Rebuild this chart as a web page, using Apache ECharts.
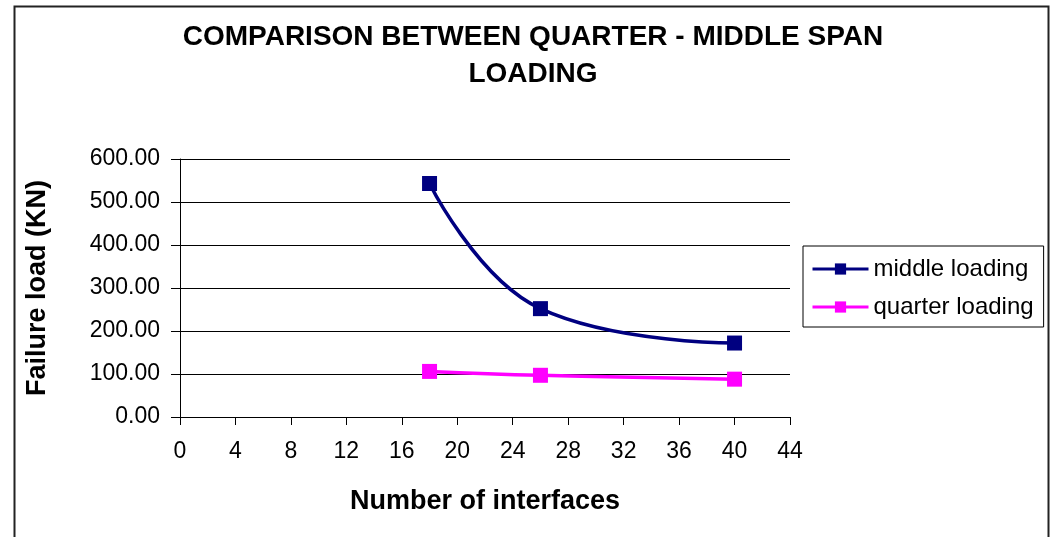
<!DOCTYPE html>
<html>
<head>
<meta charset="utf-8">
<script src="https://cdn.jsdelivr.net/npm/echarts@6/dist/echarts.min.js"></script>
<style>
  html, body { margin: 0; padding: 0; background: #fff; }
  #chart { width: 1050px; height: 537px; }
</style>
</head>
<body>
<div id="chart"></div>
<script>
// Number of interfaces (x) and failure loads in kN for the two load positions
const interfaces = [18, 26, 40];
const middleLoading = [543, 252, 172];
const quarterLoading = [106, 97, 88];
const xTicks = [0, 4, 8, 12, 16, 20, 24, 28, 32, 36, 40, 44];
const yTicks = [0, 100, 200, 300, 400, 500, 600];

const pairs = (xs, ys) => xs.map((x, i) => [x, ys[i]]);

const chart = echarts.init(document.getElementById('chart'));
const font = "'Liberation Sans', Arial, sans-serif";

chart.setOption({
  animation: false,
  backgroundColor: '#fff',
  title: {
    text: 'COMPARISON BETWEEN QUARTER - MIDDLE SPAN\nLOADING',
    left: 528,
    top: 14,
    textAlign: 'center',
    textStyle: { fontFamily: font, fontWeight: 'bold', fontSize: 28, color: '#000', lineHeight: 37 }
  },
  graphic: [{
    type: 'rect',
    shape: { x: 14.5, y: 6.5, width: 1034, height: 540 },
    style: { fill: 'none', stroke: '#222', lineWidth: 2 },
    silent: true
  }],
  legend: {
    orient: 'vertical',
    left: 803,
    top: 246,
    width: 240,
    padding: [11, 10, 8, 8],
    itemGap: 14,
    itemWidth: 56,
    itemHeight: 14,
    borderColor: '#000',
    borderWidth: 1,
    lineStyle: { width: 3 },
    textStyle: { fontFamily: font, fontSize: 24, color: '#000' },
    data: ['middle loading', 'quarter loading']
  },
  grid: { left: 180, top: 159, width: 610, height: 258 },
  xAxis: {
    type: 'value',
    min: xTicks[0],
    max: xTicks[xTicks.length - 1],
    interval: 4,
    name: 'Number of interfaces',
    nameLocation: 'middle',
    nameGap: 71,
    nameTextStyle: { fontFamily: font, fontWeight: 'bold', fontSize: 27, color: '#000' },
    axisLine: { show: true, lineStyle: { color: '#000', width: 1 } },
    axisTick: { show: true, inside: false, length: 8, lineStyle: { color: '#000' } },
    axisLabel: { fontFamily: font, fontSize: 23, color: '#000', margin: 23 },
    splitLine: { show: false }
  },
  yAxis: {
    type: 'value',
    min: yTicks[0],
    max: yTicks[yTicks.length - 1],
    interval: 100,
    name: 'Failure load (KN)',
    nameLocation: 'middle',
    nameGap: 129,
    nameRotate: 90,
    nameTextStyle: { fontFamily: font, fontWeight: 'bold', fontSize: 27, color: '#000' },
    axisLine: { show: true, lineStyle: { color: '#000', width: 1 } },
    axisTick: { show: true, inside: false, length: 9, lineStyle: { color: '#000' } },
    axisLabel: {
      fontFamily: font, fontSize: 23, color: '#000', margin: 20,
      formatter: v => v.toFixed(2)
    },
    splitLine: { show: true, lineStyle: { color: '#000', width: 1 } }
  },
  series: [
    {
      name: 'middle loading',
      type: 'line',
      data: pairs(interfaces, middleLoading),
      smooth: 0.45,
      symbol: 'rect',
      symbolSize: 15,
      itemStyle: { color: '#000080' },
      lineStyle: { color: '#000080', width: 3.5 }
    },
    {
      name: 'quarter loading',
      type: 'line',
      data: pairs(interfaces, quarterLoading),
      smooth: 0.45,
      symbol: 'rect',
      symbolSize: 15,
      itemStyle: { color: '#ff00ff' },
      lineStyle: { color: '#ff00ff', width: 3.5 }
    }
  ]
});
</script>
</body>
</html>
